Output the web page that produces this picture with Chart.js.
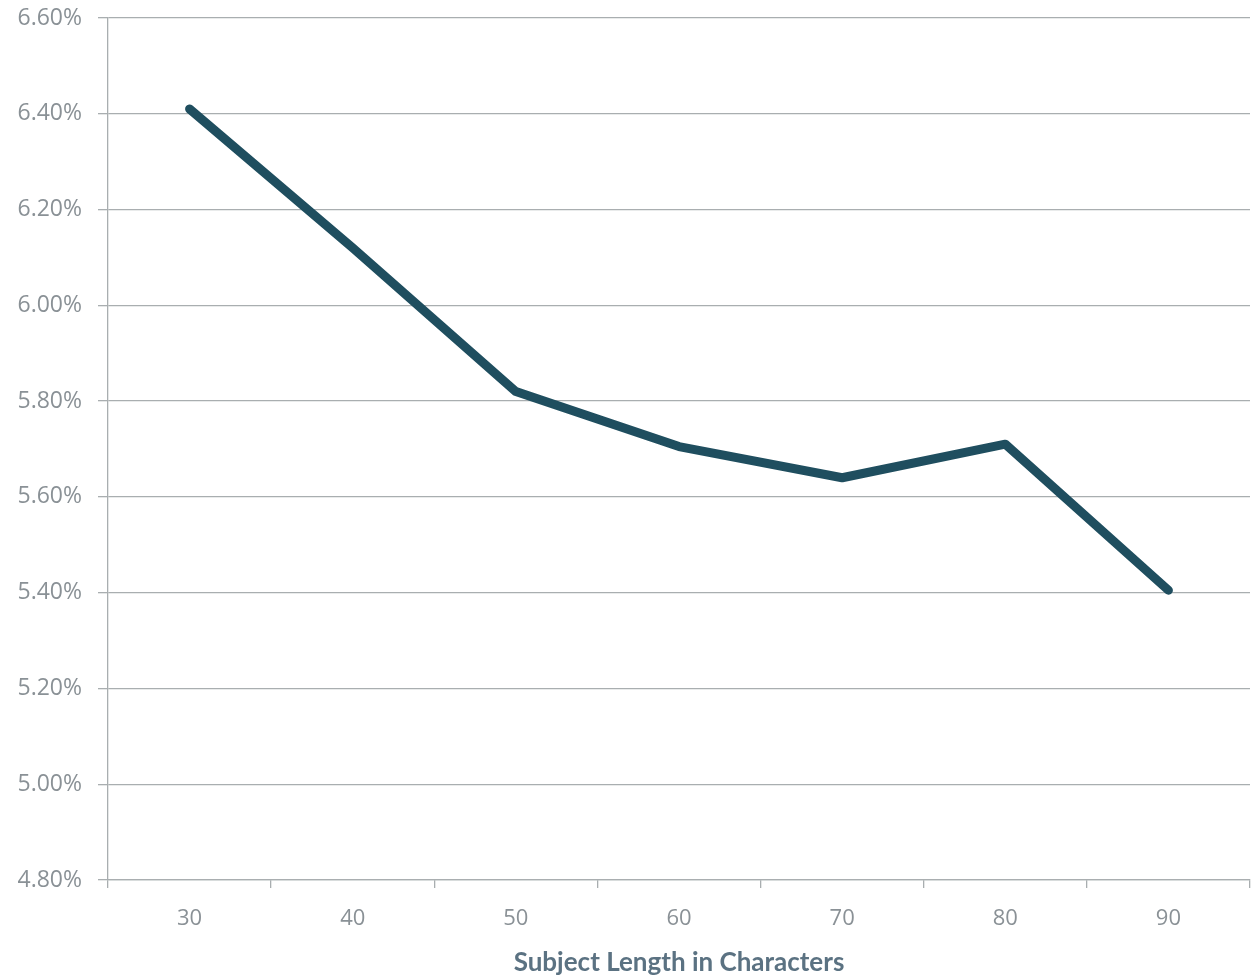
<!DOCTYPE html>
<html>
<head>
<meta charset="utf-8">
<script src="https://cdn.jsdelivr.net/npm/chart.js@4/dist/chart.umd.min.js"></script>
<style>
html,body{margin:0;padding:0;background:#fff;}
#wrap{width:1253px;height:979px;position:relative;}
</style>
</head>
<body>
<div id="wrap"><canvas id="c" width="1253" height="979"></canvas></div>
<script>
const categories = ['30','40','50','60','70','80','90'];
const openRate = [6.41, 6.12, 5.82, 5.705, 5.64, 5.71, 5.405];
const yMin = 4.8, yMax = 6.6, yStep = 0.2;
const xTitle = 'Subject Length in Characters';

const gridColor = '#a9aeb0';
const tickColor = '#8a9196';

new Chart(document.getElementById('c'), {
  type: 'line',
  data: {
    labels: categories,
    datasets: [{
      data: openRate,
      borderColor: '#1f4e5f',
      borderWidth: 9,
      borderCapStyle: 'round',
      borderJoinStyle: 'round',
      pointRadius: 0,
      tension: 0,
      fill: false
    }]
  },
  options: {
    responsive: false,
    animation: false,
    layout: { padding: { top: 18, right: 3, left: 0, bottom: 0 } },
    plugins: { legend: { display: false }, tooltip: { enabled: false } },
    scales: {
      x: {
        offset: true,
        grid: { display: true, offset: true, drawOnChartArea: false, color: gridColor, tickLength: 8, lineWidth: 1.3 },
        border: { display: true, color: gridColor, width: 1.3 },
        ticks: { color: tickColor, font: { family: 'Open Sans', size: 22 }, padding: 18 },
        title: { display: true, text: xTitle, color: '#5b7282', font: { family: 'Lato', size: 26, weight: 'bold' }, padding: { top: 0, bottom: 1 } },
        afterFit: s => { s.height = 99; }
      },
      y: {
        min: yMin, max: yMax,
        grid: { color: gridColor, tickLength: 10, lineWidth: 1.3 },
        border: { display: true, color: gridColor, width: 1.3 },
        ticks: { stepSize: yStep, color: tickColor, font: { family: 'Open Sans', size: 23, lineHeight: 1 }, padding: 16,
          callback: v => v.toFixed(2) + '%' },
        afterFit: s => { s.width = 108; s.paddingTop = 0; }
      }
    }
  }
});
</script>
</body>
</html>
